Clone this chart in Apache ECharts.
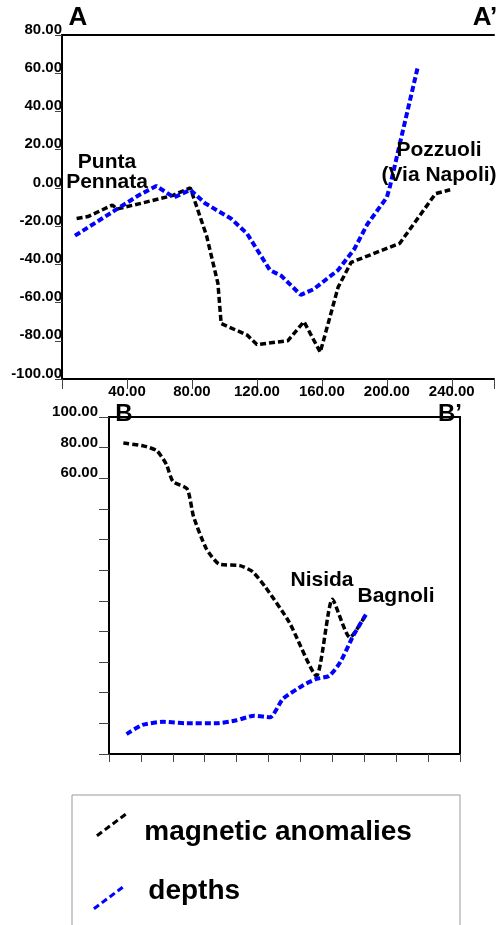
<!DOCTYPE html>
<html>
<head>
<meta charset="utf-8">
<script src="https://cdn.jsdelivr.net/npm/echarts@6/dist/echarts.min.js"></script>
<style>
  html, body { margin: 0; padding: 0; background: #fff; }
  #chart { width: 497px; height: 925px; }
</style>
</head>
<body>
<div id="chart"></div>
<script>
// profilo A-A' (distanza, valore)
const aMagX = [9, 16, 31, 34, 49, 68, 79, 89, 96, 98, 114, 120, 139, 149, 159, 170, 178, 208, 230, 239]
const aMagY = [-16, -15, -9, -11, -8, -4, 0, -25, -50, -71, -77, -82, -80, -70, -86, -52, -39, -29, -3, -1]
const aDepX = [8, 34, 47, 58, 69, 79, 88, 104, 114, 128, 135, 147, 155, 170, 180, 188, 200, 202, 208, 219]
const aDepY = [-25, -11, -4, 1, -5, -1, -8, -16, -24, -43, -46, -56, -53, -43, -32, -19, -5, 1, 23, 63]

// profilo B-B'
const bMagX = [9, 22, 30, 36, 40, 49, 53, 61, 69, 82, 90, 98, 113, 130, 140, 151, 161]
const bMagY = [83, 81, 78, 69, 58, 53, 35, 14, 4, 3, -1, -11, -34, -69, -19, -44, -29]
const bDepX = [11, 21, 34, 49, 67, 80, 91, 101, 109, 122, 130, 138, 145, 153, 161]
const bDepY = [-107, -101, -99, -100, -100, -98, -95, -96, -84, -75, -71, -69, -60, -43, -29]

// etichette degli assi
const aXLabels = [40, 80, 120, 160, 200, 240]
const bYLabels = [100, 80, 60]

const zip = (xs, ys) => xs.map((x, i) => [x, ys[i]])

const FONT = '"Liberation Sans", Arial, sans-serif'
const lineDash = [6, 3]

// icona diagonale tratteggiata per la legenda
const dashIcon = () => {
  const w = 32, h = 24, len = 40
  const ux = w / len, uy = -h / len, nx = 0.6 * 1.7, ny = 0.8 * 1.7
  let p = ''
  for (let t = 0; t < len; t += 11) {
    const e = Math.min(t + 7, len)
    const ax = ux * t, ay = h + uy * t, bx = ux * e, by = h + uy * e
    p += `M${ax + nx},${ay + ny}L${bx + nx},${by + ny}L${bx - nx},${by - ny}L${ax - nx},${ay - ny}Z`
  }
  return 'path://' + p
}

const axisLabelStyle = { color: '#000', fontWeight: 'bold', fontSize: 15, fontFamily: FONT }

const txt = (text, x, y, size, lh) => ({
  type: 'text', x, y, z: 50,
  style: {
    text, fill: '#000', font: `bold ${size}px ${FONT}`,
    textAlign: 'center', textVerticalAlign: 'middle', verticalAlign: 'middle',
    lineHeight: lh || size
  }
})

// riga vuota sopra o sotto per spostare il testo rispetto all'icona
const legendBase = {
  orient: 'vertical', padding: 0,
  itemWidth: 32, itemHeight: 24,
  icon: dashIcon(), selectedMode: false,
  itemStyle: { borderWidth: 0 }
}
const legendRich = gap => ({
  s: { fontSize: 2, lineHeight: 14 },
  t: { fontSize: 28, fontWeight: 'bold', color: '#000', fontFamily: FONT, lineHeight: 24, padding: [0, 0, 0, gap] }
})

const chart = echarts.init(document.getElementById('chart'))

const option = {
  animation: false,
  textStyle: { fontFamily: FONT },
  grid: [
    { left: 62, top: 35, right: 0, bottom: 546 },
    { left: 109, top: 417, right: 37, bottom: 171, show: true, borderColor: '#000', borderWidth: 2 }
  ],
  xAxis: [
    {
      gridIndex: 0, type: 'value', min: 0, max: 266, interval: 40,
      splitLine: { show: false },
      axisLine: { show: true, onZero: false, lineStyle: { color: '#000', width: 2 } },
      axisTick: { show: true, length: 10, lineStyle: { color: '#444', width: 1 } },
      axisLabel: { ...axisLabelStyle, margin: 5, formatter: v => aXLabels.includes(v) ? v.toFixed(2) : '' }
    },
    {
      gridIndex: 1, type: 'value', min: 0, max: 220, interval: 20,
      splitLine: { show: false },
      axisLine: { show: true, onZero: false, lineStyle: { color: '#000', width: 2 } },
      axisTick: { show: true, length: 8, lineStyle: { color: '#444', width: 1 } },
      axisLabel: { show: false }
    },
    {
      // bordo superiore del profilo A-A'
      gridIndex: 0, type: 'value', position: 'top', min: 0, max: 266,
      splitLine: { show: false },
      axisLine: { show: true, onZero: false, lineStyle: { color: '#000', width: 2 } },
      axisTick: { show: false },
      axisLabel: { show: false }
    }
  ],
  yAxis: [
    {
      gridIndex: 0, type: 'value', min: -100, max: 80, interval: 20,
      splitLine: { show: false },
      axisLine: { show: true, onZero: false, lineStyle: { color: '#000', width: 2 } },
      axisTick: { show: true, length: 7, lineStyle: { color: '#444', width: 1 } },
      axisLabel: { ...axisLabelStyle, margin: 0, verticalAlign: 'bottom', lineHeight: 11, formatter: v => v.toFixed(2) }
    },
    {
      gridIndex: 1, type: 'value', min: -120, max: 100, interval: 20,
      splitLine: { show: false },
      axisLine: { show: true, onZero: false, lineStyle: { color: '#000', width: 2 } },
      axisTick: { show: true, length: 10, lineStyle: { color: '#444', width: 1 } },
      axisLabel: { ...axisLabelStyle, margin: 11, verticalAlign: 'bottom', lineHeight: 10, formatter: v => bYLabels.includes(v) ? v.toFixed(2) : '' }
    }
  ],
  legend: [
    {
      ...legendBase, left: 96, top: 812,
      formatter: name => `{s| }\n{t|${name}}`,
      textStyle: { rich: legendRich(12) }, data: ['magnetic anomalies']
    },
    {
      ...legendBase, left: 93, top: 877,
      formatter: name => `{t|${name}}\n{s| }`,
      textStyle: { rich: legendRich(19) }, data: ['depths']
    }
  ],
  graphic: [
    { type: 'rect', z: 0, shape: { x: 72, y: 795, width: 388, height: 200 }, style: { fill: 'none', stroke: '#999', lineWidth: 1 } },
    txt('A', 78, 18, 26),
    txt('A\u2019', 485, 18, 26),
    txt('Punta\nPennata', 107, 172, 21, 20),
    txt('Pozzuoli\n(Via Napoli)', 439, 163, 21, 25),
    txt('B', 124, 414, 24),
    txt('B\u2019', 450, 414, 24),
    txt('Nisida', 322, 580, 21),
    txt('Bagnoli', 396, 596, 21)
  ],
  series: [
    {
      name: 'magnetic anomalies', type: 'line', xAxisIndex: 0, yAxisIndex: 0,
      data: zip(aMagX, aMagY), symbol: 'none', color: '#000',
      lineStyle: { color: '#000', width: 3.5, type: lineDash }
    },
    {
      name: 'depths', type: 'line', xAxisIndex: 0, yAxisIndex: 0,
      data: zip(aDepX, aDepY), symbol: 'none', color: '#0000ff',
      lineStyle: { color: '#0000ff', width: 4, type: lineDash }
    },
    {
      name: 'magnetic anomalies', type: 'line', xAxisIndex: 1, yAxisIndex: 1,
      data: zip(bMagX, bMagY), symbol: 'none', smooth: 0.2, color: '#000',
      lineStyle: { color: '#000', width: 3.5, type: lineDash }
    },
    {
      name: 'depths', type: 'line', xAxisIndex: 1, yAxisIndex: 1,
      data: zip(bDepX, bDepY), symbol: 'none', smooth: 0.2, color: '#0000ff',
      lineStyle: { color: '#0000ff', width: 4, type: lineDash }
    }
  ]
}

chart.setOption(option)
</script>
</body>
</html>
